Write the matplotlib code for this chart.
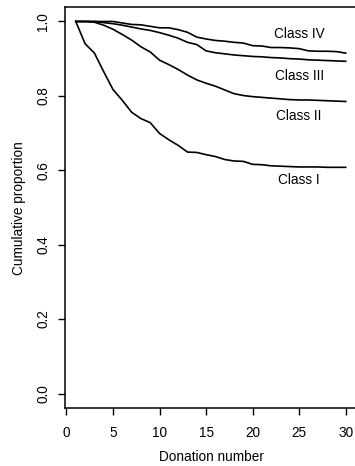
import matplotlib
matplotlib.use("Agg")
import matplotlib.pyplot as plt

donation = list(range(1, 31))
class_i = [1.000, 0.940, 0.915, 0.865, 0.817, 0.788, 0.756, 0.739, 0.728, 0.699,
           0.682, 0.667, 0.649, 0.648, 0.642, 0.637, 0.629, 0.625, 0.624, 0.616,
           0.615, 0.612, 0.611, 0.610, 0.609, 0.609, 0.609, 0.608, 0.608, 0.608]
class_ii = [1.000, 1.000, 0.998, 0.990, 0.979, 0.965, 0.950, 0.932, 0.918, 0.896,
            0.884, 0.871, 0.856, 0.843, 0.834, 0.826, 0.816, 0.806, 0.801, 0.798,
            0.796, 0.794, 0.792, 0.790, 0.789, 0.789, 0.788, 0.787, 0.786, 0.785]
class_iii = [1.000, 1.000, 1.000, 0.997, 0.994, 0.990, 0.985, 0.980, 0.976, 0.970,
             0.963, 0.955, 0.944, 0.938, 0.921, 0.916, 0.913, 0.910, 0.908, 0.906,
             0.905, 0.903, 0.902, 0.900, 0.899, 0.897, 0.896, 0.895, 0.894, 0.893]
class_iv = [1.000, 1.000, 1.000, 1.000, 1.000, 0.996, 0.992, 0.991, 0.987, 0.983,
            0.983, 0.978, 0.971, 0.958, 0.953, 0.949, 0.947, 0.944, 0.942, 0.935,
            0.934, 0.930, 0.930, 0.929, 0.927, 0.921, 0.920, 0.920, 0.919, 0.915]
series = [class_i, class_ii, class_iii, class_iv]
labels = ["Class I", "Class II", "Class III", "Class IV"]
label_x = 25
label_y = [0.575, 0.746, 0.854, 0.966]
xticks = [0, 5, 10, 15, 20, 25, 30]
yticks = [0.0, 0.2, 0.4, 0.6, 0.8, 1.0]
ytick_labels = ["0.0", "0.2", "0.4", "0.6", "0.8", "1.0"]

plt.rcParams['font.family'] = ['Liberation Sans', 'DejaVu Sans']
fs = 9.8

fig = plt.figure(figsize=(3.55, 4.66), dpi=100)
W, H = 355, 466
ax = fig.add_axes([65 / W, (H - 408.4) / H, 291.5 / W, (408.4 - 6.6) / H])

for s in series:
    ax.plot(donation, s, color="black", linewidth=1.2)
for lab, y in zip(labels, label_y):
    ax.text(label_x, y, lab, ha="center", va="center", fontsize=fs)

ax.set_xlim(-0.16, 31.16)
ax.set_ylim(-0.04, 1.04)
ax.set_xticks(xticks)
ax.set_xticklabels([str(t) for t in xticks])
ax.set_yticks(yticks)
ax.set_yticklabels(ytick_labels)
for sp in ax.spines.values():
    sp.set_linewidth(1.1)
ax.tick_params(axis="both", direction="out", length=5, width=1.0, labelsize=fs, color="black")
ax.tick_params(axis="x", pad=7.5)
ax.tick_params(axis="y", pad=5.5, labelrotation=90)
for t in ax.get_yticklabels():
    t.set_va("center")

fig.text(211 / W, (H - 461) / H, "Donation number", ha="center", va="baseline", fontsize=fs)
fig.text(23.3 / W, (H - 208) / H, "Cumulative proportion", ha="center", va="baseline",
         rotation=90, rotation_mode="anchor", fontsize=fs)

fig.savefig("out.png", dpi=100)
